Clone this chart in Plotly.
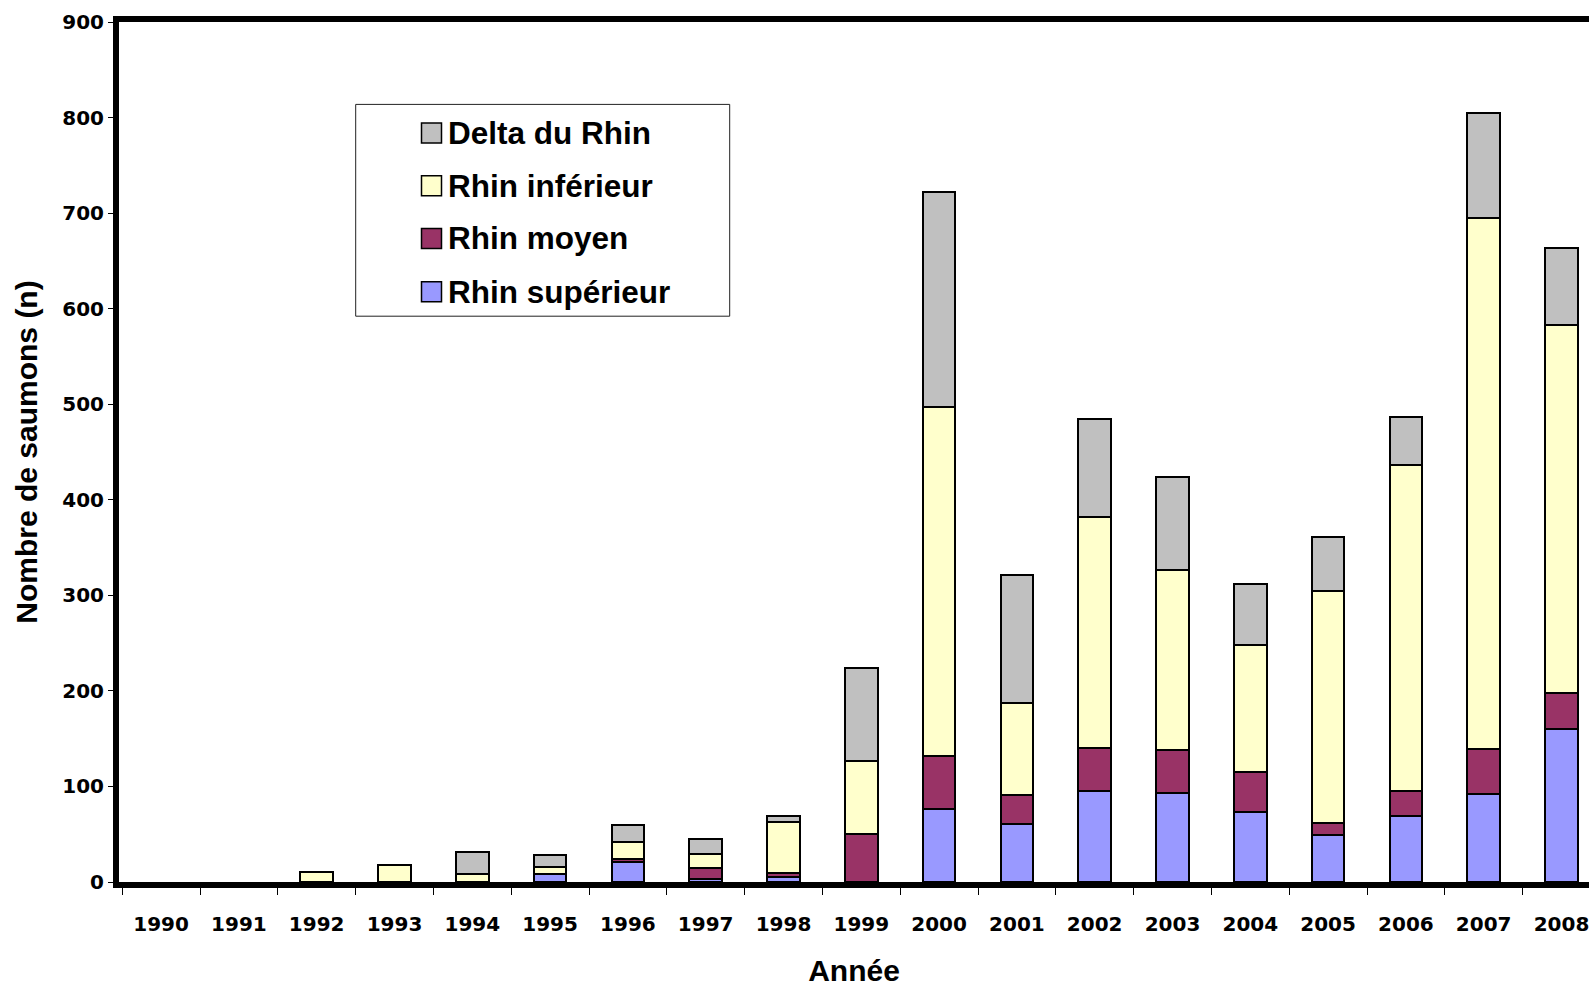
import plotly.graph_objects as go

years = [str(y) for y in range(1990, 2009)]
rhin_superieur = [0, 0, 0, 0, 0, 8, 21, 3, 5, 0, 76, 61, 95, 93, 73, 49, 69, 92, 160]
rhin_moyen = [0, 0, 0, 0, 0, 0, 3, 12, 4, 50, 56, 30, 45, 45, 42, 13, 26, 47, 38]
rhin_inferieur = [0, 0, 10, 18, 8, 8, 18, 14, 54, 77, 365, 96, 242, 189, 133, 243, 341, 556, 385]
delta_du_rhin = [0, 0, 0, 0, 23, 12, 18, 16, 6, 97, 225, 134, 103, 97, 64, 56, 51, 110, 80]

series = [
    ("Rhin supérieur", rhin_superieur, "#9999FF"),
    ("Rhin moyen", rhin_moyen, "#993366"),
    ("Rhin inférieur", rhin_inferieur, "#FFFFCC"),
    ("Delta du Rhin", delta_du_rhin, "#C0C0C0"),
]

W, H = 1589, 987
PL, PR, PT, PB = 119, 1589, 22, 882
CAT_W = 77.8
r0 = 0.5 - (200 - PL) / CAT_W
r1 = r0 + (PR - PL) / CAT_W

fig = go.Figure()
for name, vals, col in series:
    fig.add_trace(go.Bar(
        x=years, y=[v if v else None for v in vals], name=name, showlegend=False,
        marker=dict(color=col, line=dict(color="black", width=2)),
    ))

def pxx(px):
    return (px - PL) / (PR - PL)

def pxy(py):
    return (PB - py) / (PB - PT)

shapes = [dict(type="rect", xref="paper", yref="paper",
               x0=pxx(355.7), x1=pxx(729.7), y0=pxy(316.2), y1=pxy(104.4),
               line=dict(color="#222222", width=1), fillcolor="white", layer="above")]
annotations = []
legend_rows = [("Delta du Rhin", "#C0C0C0", 133.0), ("Rhin inférieur", "#FFFFCC", 185.7),
               ("Rhin moyen", "#993366", 238.5), ("Rhin supérieur", "#9999FF", 291.7)]
for name, col, cy in legend_rows:
    shapes.append(dict(type="rect", xref="paper", yref="paper",
                       x0=pxx(421.5), x1=pxx(441.5), y0=pxy(cy + 10), y1=pxy(cy - 10),
                       line=dict(color="black", width=1.5), fillcolor=col, layer="above"))
    annotations.append(dict(xref="paper", yref="paper", x=pxx(446), y=pxy(cy),
                            xanchor="left", yanchor="middle", showarrow=False, text=name,
                            font=dict(family="Liberation Sans, Arial", size=31.5, color="black",
                                      weight="bold")))

tickfont = dict(family="DejaVu Sans", size=20, color="black", weight="bold")
titlefont = dict(family="Liberation Sans, Arial", size=30, color="black", weight="bold")

fig.update_layout(
    width=W, height=H, barmode="stack", bargap=0.58,
    margin=dict(l=PL, r=W - PR, t=PT, b=H - PB, autoexpand=False),
    plot_bgcolor="white", paper_bgcolor="white",
    shapes=shapes, annotations=annotations,
    xaxis=dict(type="category", range=[r0, r1], showline=True, linecolor="black", linewidth=6,
               mirror=True, ticks="outside", tickson="boundaries", ticklen=7, tickwidth=1,
               tickcolor="black", tickfont=tickfont, showgrid=False, ticklabelstandoff=19,
               title=dict(text="Année", font=titlefont, standoff=28)),
    yaxis=dict(range=[0, 900], dtick=100, showline=True, linecolor="black", linewidth=6,
               ticks="outside", ticklen=5, tickwidth=1, tickcolor="black", tickfont=tickfont,
               showgrid=False, zeroline=False,
               title=dict(text="Nombre de saumons (n)", font=titlefont, standoff=18)),
)

fig.write_html("out.html", config={"displayModeBar": False},
               post_script="document.body.style.margin='0';document.body.style.overflow='hidden';document.documentElement.style.overflow='hidden';")
